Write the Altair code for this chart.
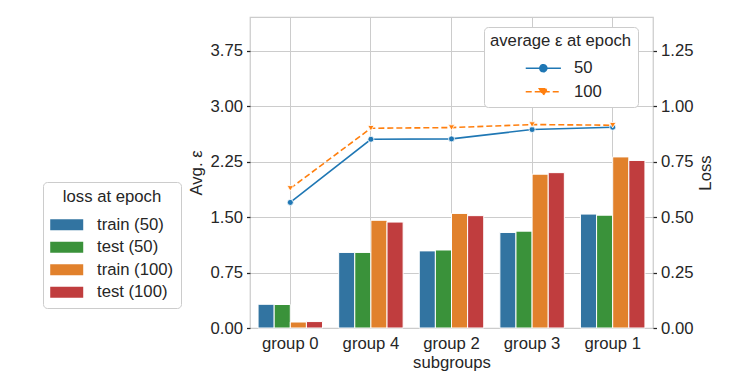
import altair as alt
import pandas as pd

# ---------------- data ----------------
groups = ["group 0", "group 4", "group 2", "group 3", "group 1"]

loss_series = ["train (50)", "test (50)", "train (100)", "test (100)"]
loss_colors = ["#3274a1", "#3a923a", "#e1812c", "#c03d3e"]
train_50 = [0.107, 0.341, 0.348, 0.431, 0.514]
test_50 = [0.106, 0.341, 0.352, 0.437, 0.509]
train_100 = [0.027, 0.486, 0.517, 0.694, 0.772]
test_100 = [0.029, 0.478, 0.507, 0.701, 0.756]

epochs = ["50", "100"]
eps_colors = ["#1f77b4", "#ff7f0e"]
eps_50 = [1.70, 2.555, 2.56, 2.687, 2.718]
eps_100 = [1.89, 2.704, 2.713, 2.754, 2.745]

eps_ticks = [0, 0.75, 1.5, 2.25, 3.0, 3.75]
loss_ticks = [0, 0.25, 0.5, 0.75, 1.0, 1.25]
EPS_MAX = 4.21
LOSS_MAX = EPS_MAX / 3

# ---------------- tables ----------------
bar_rows = []
for s, vals in zip(loss_series, [train_50, test_50, train_100, test_100]):
    for g, v in zip(groups, vals):
        bar_rows.append({"group": g, "series": s, "loss": v})
bars_df = pd.DataFrame(bar_rows)

eps_rows = []
for e, vals in zip(epochs, [eps_50, eps_100]):
    for g, v in zip(groups, vals):
        eps_rows.append({"group": g, "epoch": e, "eps": v})
eps_df = pd.DataFrame(eps_rows)

FONT = "Liberation Sans"
TXT = "#262626"
GRID = "#cccccc"
FS = 16.7

# ---------------- bars (right axis: Loss) ----------------
x_axis = alt.Axis(title="subgroups", labelAngle=0, ticks=False, domain=False,
                  grid=True, gridColor=GRID, gridWidth=1, bandPosition=0.5,
                  labelPadding=7, titlePadding=3)
x_scale = alt.Scale(paddingInner=0.2, paddingOuter=0.1)

bars = alt.Chart(bars_df).mark_bar(stroke="white", strokeWidth=1).encode(
    x=alt.X("group:N", sort=groups, scale=x_scale, axis=x_axis),
    xOffset=alt.XOffset("series:N", sort=loss_series,
                        scale=alt.Scale(paddingInner=0, paddingOuter=0)),
    y=alt.Y("loss:Q", scale=alt.Scale(domain=[0, LOSS_MAX], nice=False, zero=True),
            axis=alt.Axis(orient="right", title="Loss", titleAngle=270, titleBaseline="top",
                          values=loss_ticks, format=".2f", grid=False, domain=False,
                          ticks=True, tickSize=3.5, tickColor=TXT, tickWidth=1.25,
                          labelPadding=4, titlePadding=5)),
    fill=alt.Fill("series:N", scale=alt.Scale(domain=loss_series, range=loss_colors),
                  legend=alt.Legend(title="loss at epoch", orient="none",
                                    legendX=-207, legendY=165,
                                    symbolType="M-0.98,-0.5H2.02V0.5H-0.98Z",
                                    symbolSize=484, labelOffset=25,
                                    padding=7, strokeColor=GRID, fillColor="white",
                                    cornerRadius=4, rowPadding=2.5, columnPadding=0,
                                    titleAnchor="middle", titlePadding=8,
                                    symbolStrokeWidth=0)),
)

# ---------------- lines (left axis: Avg. eps) ----------------
y_eps = alt.Y("eps:Q", scale=alt.Scale(domain=[0, EPS_MAX], nice=False),
              axis=alt.Axis(orient="left", title="Avg. ε", values=eps_ticks, format=".2f",
                            grid=True, gridColor=GRID, gridWidth=1, domain=False,
                            tickSize=3.5, tickColor=TXT, tickWidth=1.25,
                            labelPadding=4, titlePadding=5))
x_l = alt.X("group:N", sort=groups)

# legend glyphs (line segment + marker), shifted right inside the legend entry
p_circle = "M2.02,0H5.08M3.85,0A0.3,0.3,0,1,1,3.25,0A0.3,0.3,0,1,1,3.85,0Z"
p_tri = "M2.02,0H5.08M3.21,-0.26L3.89,-0.26L3.55,0.3Z"


def eps_legend():
    return alt.Legend(title="average ε at epoch", orient="none",
                      legendX=234, legendY=10, symbolSize=529,
                      labelOffset=59,
                      symbolStrokeWidth=1.6, symbolOpacity=1,
                      padding=6, strokeColor=GRID, fillColor="white",
                      cornerRadius=4, rowPadding=1.5, columnPadding=0,
                      titleAnchor="start", titlePadding=6)


base = alt.Chart(eps_df)

legend_src = base.mark_point(filled=True, opacity=0).encode(
    x=x_l, y=y_eps,
    color=alt.Color("epoch:N", scale=alt.Scale(domain=epochs, range=eps_colors),
                    legend=eps_legend()),
    stroke=alt.Stroke("epoch:N", scale=alt.Scale(domain=epochs, range=eps_colors),
                      legend=eps_legend()),
    shape=alt.Shape("epoch:N", scale=alt.Scale(domain=epochs, range=[p_circle, p_tri]),
                    legend=eps_legend()),
    strokeDash=alt.StrokeDash("epoch:N", scale=alt.Scale(domain=epochs, range=[[1, 0], [6, 3]]),
                              legend=eps_legend()),
)

line50 = base.transform_filter(alt.datum.epoch == "50").mark_line(
    color=eps_colors[0], strokeWidth=1.6).encode(x=x_l, y="eps:Q")
line100 = base.transform_filter(alt.datum.epoch == "100").mark_line(
    color=eps_colors[1], strokeWidth=1.6, strokeDash=[6, 3]).encode(x=x_l, y="eps:Q")
pts50 = base.transform_filter(alt.datum.epoch == "50").mark_point(
    shape="circle", filled=True, size=36, color=eps_colors[0], stroke="white",
    strokeWidth=0.8, opacity=1).encode(x=x_l, y="eps:Q")
pts100 = base.transform_filter(alt.datum.epoch == "100").mark_point(
    shape="triangle-down", filled=True, size=40, color=eps_colors[1], stroke="white",
    strokeWidth=0.8, opacity=1).encode(x=x_l, y="eps:Q")

lines = alt.layer(legend_src, line50, line100, pts50, pts100)

chart = alt.layer(bars, lines).resolve_scale(
    y="independent"
).properties(
    width=403, height=311,
    autosize=alt.AutoSizeParams(type="none"),
    padding={"left": 242, "top": 9, "right": 71, "bottom": 55},
).configure_view(
    stroke=GRID, strokeWidth=1.25
).configure_axis(
    labelFont=FONT, titleFont=FONT, labelFontSize=FS, titleFontSize=FS,
    labelColor=TXT, titleColor=TXT, titleFontWeight="normal"
).configure_legend(
    labelFont=FONT, titleFont=FONT, labelFontSize=FS, titleFontSize=FS,
    labelColor=TXT, titleColor=TXT, titleFontWeight="normal"
)

chart.save("out.html", embed_options={"renderer": "svg", "actions": False})
